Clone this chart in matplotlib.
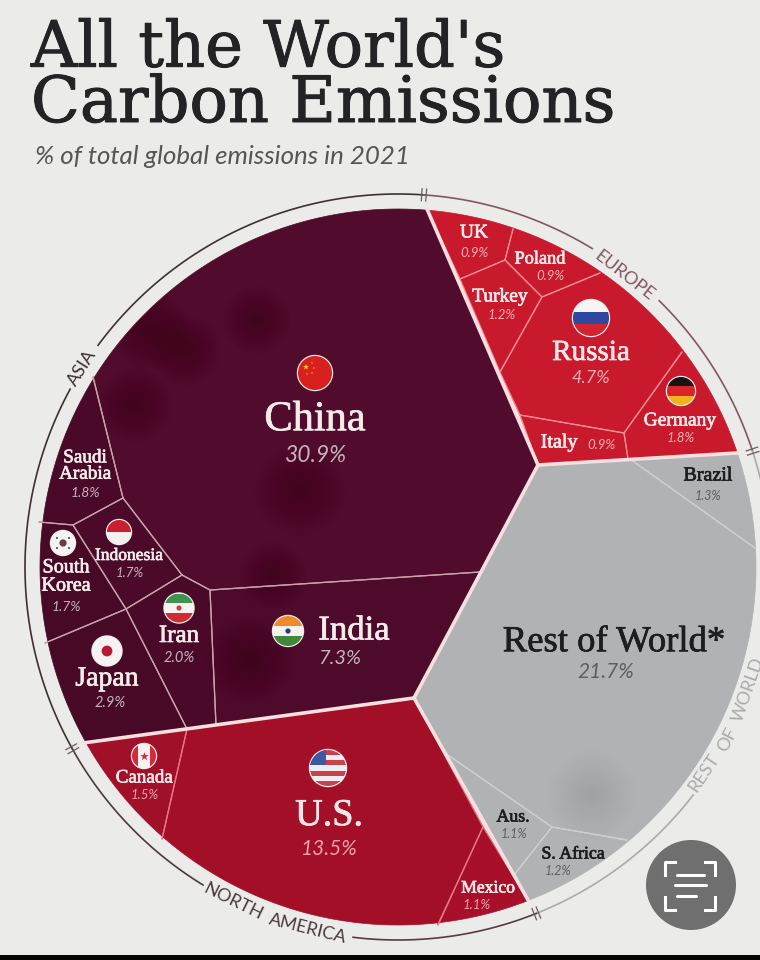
import numpy as np
import matplotlib
matplotlib.use("Agg")
import matplotlib.pyplot as plt
import matplotlib.patheffects as pe
from matplotlib.patches import Circle, Polygon, Rectangle

SERIF = "Liberation Serif"
SANS = "Lato"
BG = "#ebebe9"

# picture geometry, in reference pixels
cx, cy, R, R_ring = 398, 567, 358, 373

countries = ["China", "India", "Iran", "Japan", "South\nKorea", "Indonesia", "Saudi\nArabia",
             "U.S.", "Canada", "Mexico",
             "Russia", "Germany", "UK", "Poland", "Turkey", "Italy",
             "Rest of World*", "Brazil", "Aus.", "S. Africa"]
shares = ["30.9%", "7.3%", "2.0%", "2.9%", "1.7%", "1.7%", "1.8%",
          "13.5%", "1.5%", "1.1%",
          "4.7%", "1.8%", "0.9%", "0.9%", "1.2%", "0.9%",
          "21.7%", "1.3%", "1.1%", "1.2%"]
continents = ["ASIA"] * 7 + ["NORTH AMERICA"] * 3 + ["EUROPE"] * 6 + ["REST OF WORLD"] * 4

# cell corners
cells = {
    "China": [(427, 209), (538, 465), (480, 572), (210, 590), (182, 575), (123, 498), (93, 377)],
    "India": [(480, 572), (210, 590), (216, 725), (414, 698)],
    "Iran": [(182, 575), (210, 590), (216, 725), (187, 729), (126, 609)],
    "Japan": [(126, 609), (187, 729), (83, 743), (45, 643)],
    "South\nKorea": [(39, 522), (73, 525), (126, 609), (45, 643)],
    "Indonesia": [(73, 525), (123, 498), (182, 575), (126, 609)],
    "Saudi\nArabia": [(93, 377), (123, 498), (73, 525), (39, 522)],
    "U.S.": [(187, 729), (414, 698), (483, 827), (438, 925), (162, 839)],
    "Canada": [(83, 743), (187, 729), (162, 839)],
    "Mexico": [(483, 827), (528, 900), (438, 925)],
    "Russia": [(542, 297), (600, 273), (682, 352), (624, 433), (520, 415), (500, 372)],
    "Germany": [(682, 352), (737, 453), (628, 459), (624, 433)],
    "UK": [(427, 209), (513, 229), (505, 260), (460, 279)],
    "Poland": [(513, 229), (600, 273), (542, 297), (505, 260)],
    "Turkey": [(460, 279), (505, 260), (542, 297), (500, 372)],
    "Italy": [(520, 415), (624, 433), (628, 459), (538, 465)],
    "Rest of World*": [(538, 465), (630, 459), (755, 548), (627, 840), (552, 827), (445, 753), (414, 698)],
    "Brazil": [(630, 459), (737, 453), (755, 548)],
    "Aus.": [(445, 753), (552, 827), (514, 875)],
    "S. Africa": [(552, 827), (627, 840), (528, 900), (514, 875)],
}
cell_colors = {
    "China": "#510b2c", "India": "#4e0a2b", "Iran": "#4a0928", "Japan": "#480927",
    "South\nKorea": "#470926", "Indonesia": "#4b0a29", "Saudi\nArabia": "#4a0928",
    "U.S.": "#a30f27", "Canada": "#a01028", "Mexico": "#a80f28",
    "Russia": "#c9192d", "Germany": "#c9192d", "UK": "#c9192d", "Poland": "#c9192d",
    "Turkey": "#c9192d", "Italy": "#c9192d",
    "Rest of World*": "#b1b2b3", "Brazil": "#b1b2b3", "Aus.": "#b1b2b3", "S. Africa": "#b1b2b3",
}
edge_colors = {"ASIA": "#c9a3ac", "NORTH AMERICA": "#ec7485", "EUROPE": "#f28a90", "REST OF WORLD": "#cdcfd0"}

# name x, name y, name size, share x, share y, share size
label_pos = {
    "China": (315, 420, 30.5, 316, 455, 16.5),
    "India": (354, 631, 25, 340, 659, 14.5),
    "Iran": (179, 636, 18, 179, 658, 10.5),
    "Japan": (107, 679, 20, 110, 703, 10.5),
    "South\nKorea": (66, 577, 14.5, 66, 607, 10),
    "Indonesia": (129, 556, 12.6, 130, 573, 9.5),
    "Saudi\nArabia": (85, 466, 13.8, 85, 493, 10),
    "U.S.": (329, 816, 27.5, 329, 849, 15),
    "Canada": (144, 778, 13.7, 145, 795, 9.5),
    "Mexico": (488, 888, 12.7, 477, 905, 9.5),
    "Russia": (591, 353, 21, 591, 378, 13),
    "Germany": (680, 421, 14, 681, 438, 9.5),
    "UK": (474, 233, 14, 474, 253, 9.5),
    "Poland": (540, 259, 13.2, 550, 276, 9.5),
    "Turkey": (500, 297, 14, 502, 315, 9.5),
    "Italy": (559, 443, 14.5, 601, 445, 9.5),
    "Rest of World*": (614, 642, 26.4, 606, 672, 15),
    "Brazil": (708, 476, 14.4, 708, 496, 9),
    "Aus.": (513, 817, 12.8, 514, 834, 9),
    "S. Africa": (573, 854, 12.8, 558, 871, 9),
}
share_colors = {"ASIA": "#c5b3bb", "NORTH AMERICA": "#f0a0a8", "EUROPE": "#f3aeb2", "REST OF WORLD": "#5c5e60"}
name_colors = {"ASIA": "#f4ecec", "NORTH AMERICA": "#f8e6e6", "EUROPE": "#fae8e8", "REST OF WORLD": "#1d1d1f"}

# ring segments as start and end points, plus their colours
ring_segments = [
    ((70, 750), (68, 388), "#3f3035"),
    ((95, 343), (424, 194), "#3f3035"),
    ((424, 194), (592, 249), "#84565f"),
    ((657, 303), (750, 452), "#84565f"),
    ((750, 452), (771, 567), "#a9abac"),
    ((693, 795), (537, 915), "#a9abac"),
    ((537, 915), (353, 938), "#5c3a40"),
    ((203, 885), (70, 750), "#4a3a3e"),
]
ring_ticks = [(424, 194), (750, 452), (537, 915), (70, 750)]
ring_words = [("ASIA", 82, 368, "#3f3035"), ("EUROPE", 624, 276, "#84565f"),
              ("NORTH", 233, 902, "#4a3a3e"), ("AMERICA", 308, 929, "#4a3a3e"),
              ("REST", 704, 773, "#a9abac"), ("OF", 727, 740, "#a9abac"), ("WORLD", 748, 690, "#a9abac")]

# darker patches in the paper texture
stain_x = [150, 185, 135, 257, 300, 273, 250]
stain_y = [330, 350, 405, 320, 490, 575, 660]
stain_r = [40, 36, 38, 34, 46, 34, 44]


def angle_of(x, y):
    return np.arctan2(y - cy, x - cx)


def arc_points(p, q, radius):
    a = angle_of(*p)
    b = angle_of(*q)
    d = (b - a + np.pi) % (2 * np.pi) - np.pi
    t = np.linspace(a, a + d, 60)
    return cx + radius * np.cos(t), cy + radius * np.sin(t)


def on_rim(p):
    return np.hypot(p[0] - cx, p[1] - cy) > R - 6


def outline(pts):
    xs, ys = [], []
    for i, p in enumerate(pts):
        q = pts[(i + 1) % len(pts)]
        if on_rim(p) and on_rim(q):
            ax_, ay_ = arc_points(p, q, R)
            xs += list(ax_)
            ys += list(ay_)
        else:
            xs.append(p[0])
            ys.append(p[1])
    return np.column_stack([xs, ys])


def flag_base(x, y, r):
    clip = Circle((x, y), r, transform=ax.transData)
    ax.add_patch(Circle((x, y), r + 1.2, fc="#f4eeee", ec="none", zorder=5))
    return clip


def stripes(x, y, r, colors, vertical=False, weights=None):
    clip = flag_base(x, y, r)
    weights = weights or [1] * len(colors)
    pos = -r
    for c, w in zip(colors, weights):
        h = 2 * r * w / sum(weights)
        if vertical:
            rect = Rectangle((x + pos, y - r), h, 2 * r, fc=c, ec="none", zorder=6)
        else:
            rect = Rectangle((x - r, y + pos), 2 * r, h, fc=c, ec="none", zorder=6)
        ax.add_patch(rect)
        rect.set_clip_path(clip)
        pos += h
    return clip


fig = plt.figure(figsize=(7.6, 9.6), dpi=100, facecolor=BG)
ax = fig.add_axes([0, 0, 1, 1])
ax.set_xlim(0, 760)
ax.set_ylim(960, 0)
ax.axis("off")

title = ax.text(31, 122, "All the World's\nCarbon Emissions", family="DejaVu Serif", fontsize=46, color="#232326",
                va="baseline", linespacing=0.88)
title.set_path_effects([pe.withStroke(linewidth=0.7, foreground="#232326")])
ax.text(35, 156, "% of total global emissions in 2021", family=SANS, style="italic", fontsize=18.6,
        color="#555557", va="center")

# cells
for name, cont in zip(countries, continents):
    ax.add_patch(Polygon(outline(cells[name]), closed=True, fc=cell_colors[name],
                         ec=cell_colors[name], lw=0.5, zorder=1))

# texture
for sx, sy, sr in zip(stain_x, stain_y, stain_r):
    for f in np.linspace(1, 0.1, 16):
        c = Circle((sx, sy), sr * f, fc="#2a0414", ec="none", alpha=0.014, zorder=1.2)
        ax.add_patch(c)
        c.set_clip_path(Circle((cx, cy), R - 1, transform=ax.transData))
for f in np.linspace(1, 0.1, 16):
    ax.add_patch(Circle((592, 795), 45 * f, fc="#808284", ec="none", alpha=0.012, zorder=1.2))

# thin lines between cells
for name, cont in zip(countries, continents):
    pts = cells[name]
    for i, p in enumerate(pts):
        q = pts[(i + 1) % len(pts)]
        if not (on_rim(p) and on_rim(q)):
            ax.plot([p[0], q[0]], [p[1], q[1]], color=edge_colors[cont], lw=0.9, zorder=2,
                    solid_capstyle="round")

# thick lines between continents
major_lines = [[(427, 209), (538, 465)], [(538, 465), (414, 698)], [(538, 465), (737, 453)],
               [(414, 698), (528, 900)], [(83, 743), (414, 698)]]
for line in major_lines:
    ax.plot([line[0][0], line[1][0]], [line[0][1], line[1][1]], color="#f6dfe0", lw=2.6, zorder=3,
            solid_capstyle="round")

# outer ring
for p, q, col in ring_segments:
    rx, ry = arc_points(p, q, R_ring)
    ax.plot(rx, ry, color=col, lw=1.2, zorder=2)
for tx, ty in ring_ticks:
    a = angle_of(tx, ty)
    for off in (-0.006, 0.006):
        ax.plot([cx + (R_ring - 6) * np.cos(a + off), cx + (R_ring + 6) * np.cos(a + off)],
                [cy + (R_ring - 6) * np.sin(a + off), cy + (R_ring + 6) * np.sin(a + off)],
                color="#6b5a5e", lw=0.9, zorder=2)
for word, wx, wy, col in ring_words:
    theta = np.degrees(np.arctan2(-(wy - cy), wx - cx))
    rot = theta - 90 if wy < cy else theta + 90
    ax.text(wx, wy, word, rotation=rot, rotation_mode="anchor", ha="center", va="center",
            family=SANS, fontsize=13, color=col)

# labels
for name, share, cont in zip(countries, shares, continents):
    nx, ny, ns, px, py, ps = label_pos[name]
    t = ax.text(nx, ny, name, family=SERIF, fontsize=ns, color=name_colors[cont], ha="center", va="center",
                linespacing=0.95, zorder=7)
    t.set_path_effects([pe.withStroke(linewidth=0.5, foreground=name_colors[cont])])
    ax.text(px, py, share, family=SANS, style="italic", fontsize=ps, color=share_colors[cont],
            ha="center", va="center", zorder=7)

# flags
stripes(315, 373, 17, ["#d8201f"])
ax.scatter([306, 312, 314, 312, 307], [367, 363, 368, 373, 374], s=[22, 3, 3, 3, 3], color="#f2c233",
           marker="*", zorder=7, linewidths=0)
stripes(288, 631, 15, ["#ee8a2a", "#f5f2ee", "#3f8a3a"])
ax.add_patch(Circle((288, 631), 2.6, fc="#2a3a80", ec="none", zorder=7))
clip = stripes(328, 768, 18, ["#c4434f", "#f2eef0"] * 3 + ["#c4434f"])
r_ = Rectangle((310, 750), 16, 15, fc="#3c5aa0", ec="none", zorder=6.5)
ax.add_patch(r_)
r_.set_clip_path(clip)
stripes(591, 318, 18, ["#f7f4f4", "#2f49a0", "#d2252f"])
stripes(681, 391, 14, ["#1b1214", "#d8242a", "#f2b21c"])
stripes(179, 608, 14.5, ["#3f9350", "#f5f2f0", "#cf2b33"])
ax.add_patch(Circle((179, 608), 2.6, fc="#c2454c", ec="none", zorder=7))
stripes(119, 532, 12, ["#c9202f", "#f5f0f0"])
stripes(107, 651, 14.5, ["#f7f3f3"])
ax.add_patch(Circle((107, 651), 5.4, fc="#b81a34", ec="none", zorder=7))
stripes(63, 543, 12, ["#f5f2f2"])
ax.add_patch(Circle((63, 543), 3.6, fc="#6a3a4a", ec="none", zorder=7))
ax.scatter([57, 69, 57, 69], [538, 538, 548, 548], s=3, color="#6d6468", marker="s", zorder=7, linewidths=0)
stripes(144, 756, 12, ["#d42a3a", "#f6f1f1", "#d42a3a"], vertical=True, weights=[1, 2, 1])
ax.scatter([144], [756], s=42, color="#d42a3a", marker="*", zorder=7, linewidths=0)

# phone overlay button and bottom bar
ax.add_patch(Circle((691, 885), 45, fc="#6f6f6f", ec="none", zorder=8))
for xs, ys in [([665, 665, 675], [875, 862, 862]), ([705, 715, 715], [862, 862, 875]),
               ([665, 665, 675], [897, 910, 910]), ([705, 715, 715], [910, 910, 897])]:
    ax.plot(xs, ys, color="white", lw=2.2, zorder=9, solid_joinstyle="round")
for x0, x1, y0 in [(677, 704, 875), (675, 706, 885), (677, 696, 896)]:
    ax.plot([x0, x1], [y0, y0], color="white", lw=2.2, zorder=9, solid_capstyle="round")
ax.add_patch(Rectangle((0, 955), 760, 5, fc="#050505", ec="none", zorder=10))

fig.savefig("out.png", dpi=100, facecolor=BG)
